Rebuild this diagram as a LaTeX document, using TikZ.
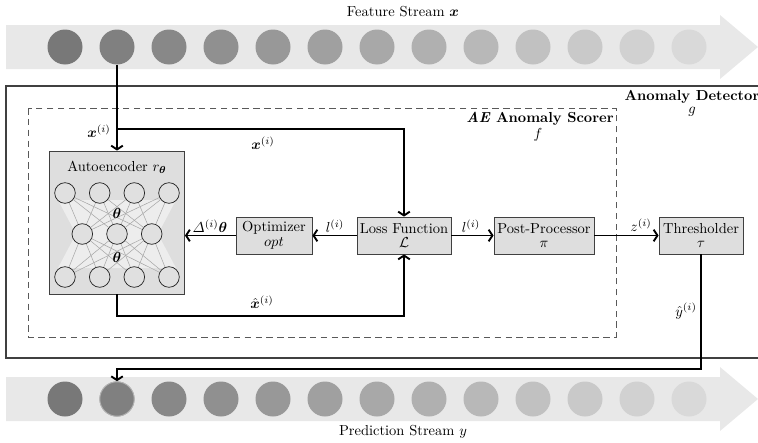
\documentclass[tikz,border=0pt]{standalone}
\usepackage{amsmath,bm}
\usetikzlibrary{arrows.meta}
\begin{document}
\begin{tikzpicture}[x=0.69pt,y=-0.69pt,
  dot/.style={circle, inner sep=0pt, minimum size=35*0.69pt},
  blk/.style={draw=black!75, fill=black!13, line width=0.6pt, inner sep=0pt, align=center, minimum height=37*0.69pt},
  neuron/.style={circle, draw=black!85, fill=black!12, line width=0.5pt, inner sep=0pt, minimum size=20.6*0.69pt},
  syn/.style={draw=black!35, line width=0.35pt},
  flow/.style={line width=1.3pt, -{Straight Barb[length=2.6pt,width=8pt]}},
  lab/.style={inner sep=1pt}]
\useasboundingbox (0,0) rectangle (758,443);
% streams
\fill[black!9] (6,25) -- (720,25) -- (720,15) -- (758,47) -- (720,79) -- (720,69) -- (6,69) -- cycle;
\fill[black!9] (6,377) -- (720,377) -- (720,367) -- (758,399) -- (720,431) -- (720,421) -- (6,421) -- cycle;
\foreach \i in {1,...,13}{
  \pgfmathsetmacro\shd{53-38*(\i-1)/12}
  \node[dot, fill=black!\shd] (fs\i) at ({65+52*(\i-1)},47) {};
  \node[dot, fill=black!\shd] (ps\i) at ({65+52*(\i-1)},399) {};
}
\draw[black!30, line width=0.6pt] (ps2) circle (17.2);
\node (fst) at (403,12) {Feature Stream $\bm{x}$};
\node (pst) at (403,432) {Prediction Stream $y$};
% anomaly detector box
\draw[black!75, line width=0.7pt] (770,86) -- (6,86) -- (6,358) -- (770,358);
\node (adt) at (692,97) {\textbf{Anomaly Detector}};
\node (adg) at (692,112) {$g$};
% scorer dashed box
\draw[black!65, line width=0.6pt, dash pattern=on 4.5pt off 3pt] (28,108) rectangle (616,337);
\node (sct) at (540,119) {\textbf{\textit{AE} Anomaly Scorer}};
\node (scf) at (538,135) {$f$};
% autoencoder
\node[blk, minimum width=135*0.69pt, minimum height=143*0.69pt] (ae) at (117,222.5) {};
\fill[black!7] (58,200) -- (176,200) -- (158,234) -- (176,268) -- (58,268) -- (76,234) -- cycle;
\node (aet) at (117,167) {Autoencoder $r_{\bm\theta}$};
\foreach \k/\xx in {1/65,2/99.7,3/134.3,4/169}{
  \node[neuron] (t\k) at (\xx,193) {};
  \node[neuron] (b\k) at (\xx,277) {};
}
\foreach \k/\xx in {1/82.3,2/117,3/151.7}{
  \node[neuron] (m\k) at (\xx,234) {};
}
\foreach \a in {1,...,4}{
  \foreach \c in {1,2,3}{
    \draw[syn] (t\a) -- (m\c);
    \draw[syn] (b\a) -- (m\c);
  }
}
\node (th1) at (117,213) {$\bm\theta$};
\node (th2) at (117,257) {$\bm\theta$};
% blocks
\node[blk, minimum width=76*0.69pt] (opt) at (274,235.5) {Optimizer\\[-2pt] $opt$};
\node[blk, minimum width=94*0.69pt] (loss) at (404,235.5) {Loss Function\\[-2pt] $\mathcal{L}$};
\node[blk, minimum width=100*0.69pt] (post) at (544,235.5) {Post-Processor\\[-2pt] $\pi$};
\node[blk, minimum width=84*0.69pt] (thr) at (701,235.5) {Thresholder\\[-2pt] $\tau$};
% connectors
\coordinate (j1) at (117,129);
\coordinate (j2) at (117,316);
\coordinate (j3) at (701,369);
\draw[flow] (fs2) -- (ae.north);
\draw[flow] (j1) -| (loss.north);
\draw[flow] (ae.south) -- (j2) -| (loss.south);
\draw[flow] (loss.west) -- (opt.east);
\draw[flow] (opt.west) -- (opt.west -| ae.east);
\draw[flow] (loss.east) -- (post.west);
\draw[flow] (post.east) -- (thr.west);
\draw[flow] (thr.south) -- (j3) -| (ps2.north);
% labels
\node[lab] (lx1) at (99,131) {$\bm{x}^{(i)}$};
\node[lab] (lx2) at (263,143) {$\bm{x}^{(i)}$};
\node[lab] (lxh) at (262,302) {$\hat{\bm{x}}^{(i)}$};
\node[lab] (ld) at (210,226) {$\varDelta^{(i)}\bm\theta$};
\node[lab] (ll1) at (335,226) {$l^{(i)}$};
\node[lab] (ll2) at (471,226) {$l^{(i)}$};
\node[lab] (lz) at (641,225) {$z^{(i)}$};
\node[lab] (ly) at (686,311) {$\hat{y}^{(i)}$};
\end{tikzpicture}
\end{document}
